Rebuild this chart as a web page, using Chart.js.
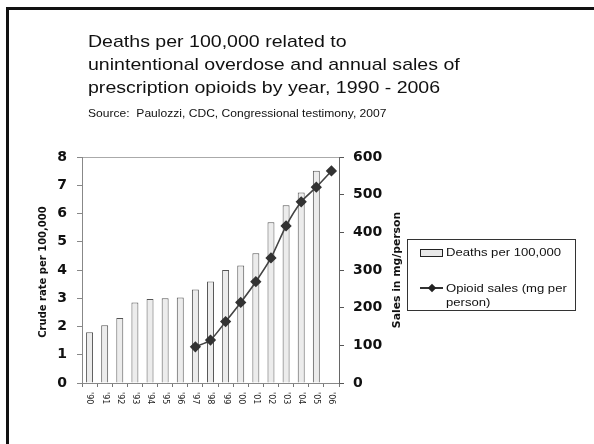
<!DOCTYPE html>
<html>
<head>
<meta charset="utf-8">
<script src="https://cdn.jsdelivr.net/npm/chart.js@4"></script>
<style>
  body { margin: 0; background: #fff; overflow: hidden; }
  #wrap { position: relative; width: 594px; height: 444px; }
  #chart { position: absolute; left: 0; top: 0; }
  .abs { position: absolute; white-space: nowrap; color: #111; pointer-events: none; }
  .sans { font-family: "Liberation Sans", Arial, sans-serif; }
  .frame { position: absolute; left: 6px; top: 7px; right: 0; bottom: 0; border-top: 3px solid #111; border-left: 3px solid #111; }
  .ytitle { font-family: "DejaVu Sans", Verdana, sans-serif; font-weight: bold; line-height: 1; transform: translate(-50%, -50%) rotate(-90deg); }
</style>
</head>
<body>
<div id="wrap">
  <canvas id="chart" width="594" height="444"></canvas>
  <div class="frame"></div>

  <div class="abs sans" style="left:88px; top:30px; font-size:17px; line-height:23px; transform:scaleX(1.15); transform-origin:0 0;">
    Deaths per 100,000 related to<br>
    unintentional overdose and annual sales of<br>
    prescription opioids by year, 1990 - 2006
  </div>
  <div class="abs sans" style="left:88px; top:107px; font-size:10.6px; line-height:12px; transform:scaleX(1.14); transform-origin:0 0;">
    Source:&nbsp; Paulozzi, CDC, Congressional testimony, 2007
  </div>

  <div class="abs ytitle" style="left:42.5px; top:271.5px; font-size:10px;">Crude rate per 100,000</div>
  <div class="abs ytitle" style="left:396.5px; top:270px; font-size:10.8px;">Sales in mg/person</div>

  <!-- legend -->
  <div class="abs" style="left:407px; top:239px; width:167px; height:70px; border:1px solid #333;"></div>
  <div class="abs" style="left:420px; top:249px; width:21px; height:6px; background:#e8e8e8; border:1px solid #222;"></div>
  <div class="abs sans" style="left:446px; top:244.5px; font-size:11px; line-height:14px; transform:scaleX(1.19); transform-origin:0 0;">Deaths per 100,000</div>
  <div class="abs" style="left:420px; top:287px; width:23px; height:1.5px; background:#333;"></div>
  <div class="abs" style="left:429px; top:284.5px; width:6px; height:6px; background:#222; transform:rotate(45deg);"></div>
  <div class="abs sans" style="left:446px; top:280.5px; font-size:11px; line-height:14.5px; transform:scaleX(1.19); transform-origin:0 0;">Opioid sales (mg per<br>person)</div>
</div>

<script>
const years = ["'90", "'91", "'92", "'93", "'94", "'95", "'96", "'97", "'98",
               "'99", "'00", "'01", "'02", "'03", "'04", "'05", "'06"];

// deaths per 100,000 (left axis)
const deathRates = [1.80, 2.04, 2.30, 2.85, 2.97, 3.00, 3.03, 3.31, 3.59,
                    4.00, 4.16, 4.59, 5.69, 6.29, 6.74, 7.51, null];

// opioid sales, mg per person (right axis)
const opioidSales = [null, null, null, null, null, null, null, 96, 114,
                     163, 214, 269, 332, 417, 481, 520, 563];

const rateAxis = { min: 0, max: 8, step: 1 };
const salesAxis = { min: 0, max: 600, step: 100 };

const tickFont = { family: 'DejaVu Sans', size: 14, weight: 'bold' };

// year labels read top-to-bottom under each bar
const yearLabels = {
  id: 'yearLabels',
  afterDraw(chart) {
    const xs = chart.scales.x;
    const ctx = chart.ctx;
    ctx.save();
    ctx.font = '8px "DejaVu Sans"';
    ctx.fillStyle = '#222';
    ctx.textAlign = 'left';
    ctx.textBaseline = 'middle';
    years.forEach((label, i) => {
      ctx.save();
      ctx.translate(xs.getPixelForTick(i), xs.top + 9);
      ctx.rotate(Math.PI / 2);
      ctx.fillText(label, 0, 0);
      ctx.restore();
    });
    ctx.restore();
  }
};

new Chart(document.getElementById('chart'), {
  data: {
    labels: years,
    datasets: [
      {
        type: 'line',
        label: 'Opioid sales (mg per person)',
        data: opioidSales,
        yAxisID: 'y1',
        order: 0,
        borderColor: '#444',
        borderWidth: 1.6,
        tension: 0.2,
        pointStyle: 'rectRot',
        pointRadius: 4.5,
        pointBackgroundColor: '#333',
        pointBorderColor: '#333'
      },
      {
        type: 'bar',
        label: 'Deaths per 100,000',
        data: deathRates,
        yAxisID: 'y',
        order: 1,
        backgroundColor: '#ececec',
        borderColor: '#555',
        borderWidth: 1,
        barPercentage: 0.46,
        categoryPercentage: 1
      }
    ]
  },
  options: {
    responsive: false,
    animation: false,
    layout: { padding: { left: 30, right: 191, top: 157, bottom: 33 } },
    plugins: {
      legend: { display: false },
      tooltip: { enabled: false }
    },
    scales: {
      x: {
        offset: true,
        ticks: { display: false },
        grid: { offset: true, drawOnChartArea: false, tickLength: 4, tickColor: '#777' },
        border: { color: '#888' },
        afterFit(scale) { scale.height = 28; }
      },
      y: {
        position: 'left',
        min: rateAxis.min,
        max: rateAxis.max,
        ticks: { stepSize: rateAxis.step, color: '#111', font: tickFont, padding: 10 },
        grid: {
          color: ctx => (ctx.tick && ctx.tick.value === rateAxis.max) ? '#aaa' : 'rgba(0,0,0,0)',
          tickColor: '#888',
          tickLength: 5
        },
        border: { color: '#888' },
        afterFit(scale) { scale.width = 52; }
      },
      y1: {
        position: 'right',
        min: salesAxis.min,
        max: salesAxis.max,
        ticks: { stepSize: salesAxis.step, color: '#111', font: tickFont, padding: 9 },
        grid: { drawOnChartArea: false, tickColor: '#555', tickLength: 5 },
        border: { color: '#666' },
        afterFit(scale) { scale.width = 64; }
      }
    }
  },
  plugins: [yearLabels]
});
</script>
</body>
</html>
